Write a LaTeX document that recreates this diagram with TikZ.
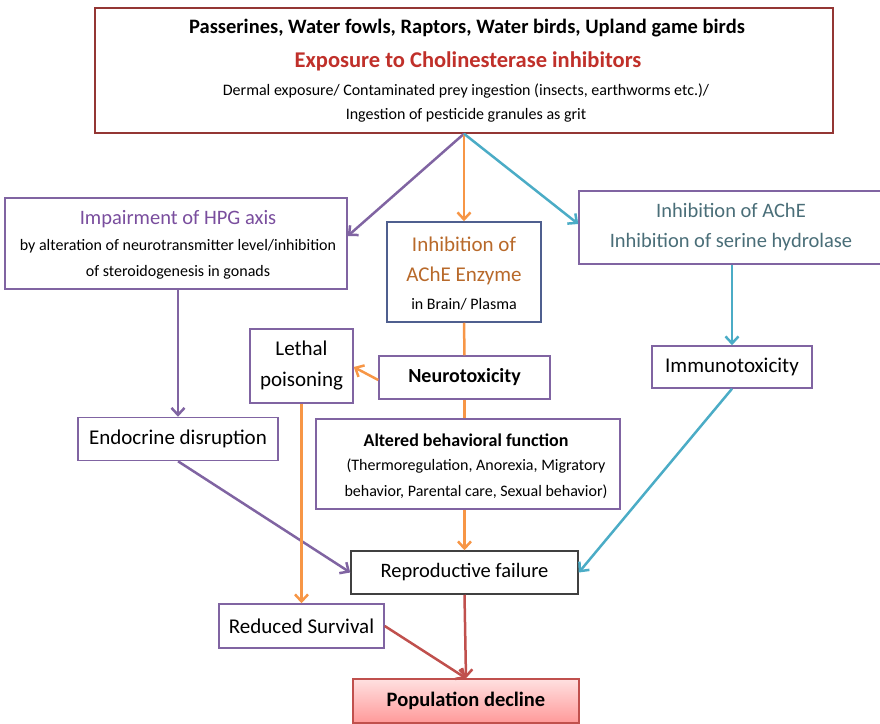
\documentclass[tikz,border=0pt]{standalone}
\usepackage{fontspec}
\setmainfont{Carlito}
\usetikzlibrary{arrows.meta}
\definecolor{cpurple}{HTML}{8064A2}
\definecolor{corange}{HTML}{F79646}
\definecolor{cteal}{HTML}{4BACC6}
\definecolor{cred}{HTML}{C0504D}
\definecolor{ctopb}{HTML}{943634}
\definecolor{cblue}{HTML}{4F5F8F}
\definecolor{ctxtpurple}{HTML}{7A4E9E}
\definecolor{ctxtorange}{HTML}{B8692A}
\definecolor{ctxtteal}{HTML}{4A6E78}
\definecolor{ctxtred}{HTML}{C0302A}
\tikzset{
  box/.style={draw=cpurple, line width=1.5pt, inner sep=2pt, align=center, fill=white},
  conn/.style={line width=2.5pt, -{Straight Barb[length=7pt,width=13pt]}},
  plain/.style={line width=2.5pt},
}
\begin{document}
\begin{tikzpicture}[x=1pt,y=-1pt]
\useasboundingbox (0,0) rectangle (880,723);
% boxes
\node[box, draw=ctopb, minimum width=738pt, minimum height=125pt] (top) at (464,70.5) {};
\node[font=\fontsize{20.5}{22}\selectfont\bfseries] (t1) at (467,28) {Passerines, Water fowls, Raptors, Water birds, Upland game birds};
\node[text=ctxtred, font=\fontsize{22.5}{24}\selectfont\bfseries] (t2) at (468,61) {Exposure to Cholinesterase inhibitors};
\node[align=center, font=\fontsize{16}{24}\selectfont] (t3) at (466,103) {Dermal exposure/ Contaminated prey ingestion (insects, earthworms etc.)/\\Ingestion of pesticide granules as grit};

\node[box, minimum width=342pt, minimum height=91pt] (hpg) at (176,243.5) {};
\node[text=ctxtpurple, font=\fontsize{20.5}{22}\selectfont] (h1) at (178,219) {Impairment of HPG axis};
\node[align=center, font=\fontsize{16}{26}\selectfont] (h2) at (178,259) {by alteration of neurotransmitter level/inhibition\\of steroidogenesis in gonads};

\node[box, draw=cblue, minimum width=154pt, minimum height=100pt] (enz) at (464,272) {};
\node[text=ctxtorange, align=center, font=\fontsize{21}{30}\selectfont] (e1) at (464,261) {Inhibition of\\AChE Enzyme};
\node[font=\fontsize{16}{18}\selectfont] (e2) at (464,304) {in Brain/ Plasma};

\node[box, minimum width=304pt, minimum height=73pt] (ache) at (731,227.5) {};
\node[text=ctxtteal, align=center, font=\fontsize{20.5}{30}\selectfont] (a1) at (731,227) {Inhibition of AChE\\Inhibition of serine hydrolase};

\node[box, minimum width=103pt, minimum height=74pt, font=\fontsize{21}{31}\selectfont] (lethal) at (301.5,366) {Lethal\\poisoning};

\node[box, minimum width=171pt, minimum height=43pt, font=\fontsize{20}{22}\selectfont\bfseries] (neuro) at (464.5,377.5) {Neurotoxicity};

\node[box, minimum width=160pt, minimum height=42pt, font=\fontsize{21}{22}\selectfont] (immuno) at (732,367) {Immunotoxicity};

\node[box, minimum width=200pt, minimum height=43pt, font=\fontsize{21}{22}\selectfont] (endo) at (178,439) {Endocrine disruption};

\node[box, minimum width=304pt, minimum height=90pt] (alt) at (468,464) {};
\node[font=\fontsize{18}{20}\selectfont\bfseries] (b1) at (466,440) {Altered behavioral function};
\node[align=center, font=\fontsize{16}{26}\selectfont] (b2) at (476,479) {(Thermoregulation, Anorexia, Migratory\\behavior, Parental care, Sexual behavior)};

\node[box, draw=black!75, minimum width=227pt, minimum height=43pt, font=\fontsize{20.5}{22}\selectfont] (repro) at (464.5,572.5) {Reproductive failure};

\node[box, minimum width=165pt, minimum height=44pt, font=\fontsize{21}{22}\selectfont] (red) at (301.5,626) {Reduced Survival};

\node[box, draw=cred, top color=red!12, bottom color=red!40, minimum width=226pt, minimum height=44pt, font=\fontsize{20.5}{22}\selectfont\bfseries] (pop) at (466,701) {Population decline};

% connectors
\coordinate (src) at (top.south);
\draw[conn, cpurple] (src) -- (hpg.east |- 0,236);
\draw[conn, corange] (src) -- (enz.north);
\draw[conn, cteal] (src) -- (ache.north west |- 0,224);
\draw[conn, cpurple] (hpg.south -| endo.south) -- (endo.north);
\draw[conn, cteal] (ache.south -| immuno.north) -- (immuno.north);
\draw[plain, corange] (enz.south) -- (neuro.north);
\draw[plain, corange] (neuro.south) -- (neuro.south |- alt.north);
\draw[conn, corange] (neuro.west |- 0,380) -- (lethal.east |- 0,367);
\draw[conn, corange] (alt.south -| repro.north) -- (repro.north);
\draw[conn, cpurple] (endo.south) -- (repro.west);
\draw[conn, cteal] (immuno.south) -- (repro.east);
\draw[conn, corange] (lethal.south) -- (red.north);
\draw[conn, cred] (repro.south) -- (pop.north);
\draw[conn, cred] (red.east) -- (pop.north);
\end{tikzpicture}
\end{document}
